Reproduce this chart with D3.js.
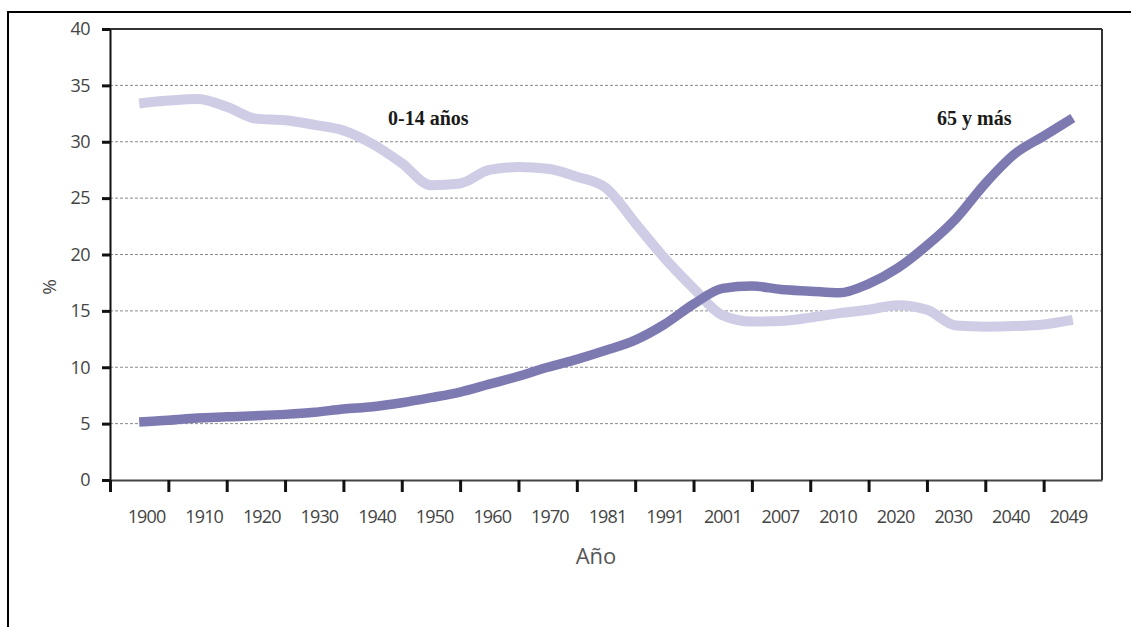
<!DOCTYPE html>
<html>
<head>
<meta charset="utf-8">
<script src="https://cdn.jsdelivr.net/npm/d3@7"></script>
<style>
  html, body { margin: 0; padding: 0; background: #fff; }
  svg { display: block; }
</style>
</head>
<body>
<svg id="chart" width="1131" height="627"></svg>
<script>
// ---- Data ----
const categories = ["1900","1910","1920","1930","1940","1950","1960","1970","1981","1991","2001","2007","2010","2020","2030","2040","2049"];
const yTickValues = [0, 5, 10, 15, 20, 25, 30, 35, 40];
// Values read at each category centre and at each boundary between categories (half steps)
const pct0a14 = [33.4, 33.65, 33.8, 33.1, 32.05, 31.9, 31.5, 31.0, 29.8, 28.1, 26.15, 26.3, 27.5, 27.75, 27.6, 26.9, 25.9, 22.8, 19.7, 17.0, 14.6, 14.05, 14.1, 14.4, 14.8, 15.1, 15.5, 15.1, 13.7, 13.6, 13.65, 13.8, 14.2];
const pct65mas = [5.15, 5.3, 5.5, 5.6, 5.7, 5.82, 6.0, 6.3, 6.5, 6.85, 7.3, 7.8, 8.5, 9.2, 10.0, 10.7, 11.5, 12.4, 13.8, 15.6, 17.0, 17.2, 16.9, 16.75, 16.6, 17.4, 18.8, 20.8, 23.2, 26.3, 28.9, 30.5, 32.1];
const seriesLabels = ["0-14 años", "65 y más"];
const xTitle = "Año";
const yTitle = "%";

// ---- Layout ----
const svg = d3.select("#chart");
const plot = { left: 110, right: 1102, top: 29, bottom: 480 };

const y = d3.scaleLinear().domain([0, 40]).range([plot.bottom, plot.top]);
// index scale: category i sits at i, boundaries at i +/- 0.5
const xi = d3.scaleLinear().domain([-0.5, categories.length - 0.5]).range([plot.left, plot.right]);
const xLabel = d3.scalePoint().domain(categories).range([146, 1068]);

// Outer frame
svg.append("rect").attr("x", 8).attr("y", 12).attr("width", 1300).attr("height", 800)
  .attr("fill", "none").attr("stroke", "#000").attr("stroke-width", 2);

// Gridlines (dashed)
svg.append("g").selectAll("line").data(yTickValues.filter(v => v > 0 && v < 40)).join("line")
  .attr("x1", plot.left).attr("x2", plot.right)
  .attr("y1", d => y(d)).attr("y2", d => y(d))
  .attr("stroke", "#8a8a8a").attr("stroke-width", 1).attr("stroke-dasharray", "3,2");

// Top line (40) and right border
svg.append("line").attr("x1", 102).attr("x2", plot.right).attr("y1", y(40)).attr("y2", y(40))
  .attr("stroke", "#333").attr("stroke-width", 2);
svg.append("line").attr("x1", plot.right).attr("x2", plot.right).attr("y1", y(40)).attr("y2", y(0))
  .attr("stroke", "#333").attr("stroke-width", 2);

// Y axis
const yAxis = d3.axisLeft(y).tickValues(yTickValues).tickSize(8).tickPadding(12).tickSizeOuter(0);
const gy = svg.append("g").attr("transform", `translate(${plot.left},0)`).call(yAxis);
gy.select(".domain").attr("stroke", "#111").attr("stroke-width", 2);
gy.selectAll(".tick line").attr("stroke", "#111").attr("stroke-width", 3);
gy.selectAll(".tick text").attr("font-family", "'Open Sans', sans-serif").attr("font-size", 18)
  .attr("fill", "#444").attr("x", -20).attr("letter-spacing", "-0.5px");

// X axis (ticks at category boundaries)
const tickPositions = d3.range(-0.5, categories.length - 1, 1);
const xAxis = d3.axisBottom(xi).tickValues(tickPositions).tickFormat("").tickSize(12).tickSizeOuter(0);
const gx = svg.append("g").attr("transform", `translate(0,${plot.bottom})`).call(xAxis);
gx.select(".domain").attr("stroke", "#444").attr("stroke-width", 2);
gx.selectAll(".tick line").attr("stroke", "#111").attr("stroke-width", 3);

// X category labels
const xLabAxis = d3.axisBottom(xLabel).tickSize(0).tickPadding(0);
const gxl = svg.append("g").attr("transform", `translate(0,${plot.bottom + 30})`).call(xLabAxis);
gxl.select(".domain").remove();
gxl.selectAll(".tick text").attr("font-family", "'Open Sans', sans-serif").attr("font-size", 18)
  .attr("fill", "#444").attr("letter-spacing", "-0.9px");

// Axis titles
svg.append("text").attr("x", 596).attr("y", 564).attr("text-anchor", "middle")
  .attr("font-family", "'Open Sans', sans-serif").attr("font-size", 22).attr("fill", "#555").text(xTitle);
svg.append("text").attr("transform", "translate(56,287) rotate(-90)").attr("text-anchor", "middle")
  .attr("font-family", "'Open Sans', sans-serif").attr("font-size", 19).attr("fill", "#444").text(yTitle);

// Lines
const line = d3.line().x((d, k) => xi(k / 2)).y(d => y(d)).curve(d3.curveMonotoneX);
svg.append("path").datum(pct0a14).attr("d", line)
  .attr("fill", "none").attr("stroke", "#cfcde6").attr("stroke-width", 10).attr("stroke-linecap", "butt");
svg.append("path").datum(pct65mas).attr("d", line)
  .attr("fill", "none").attr("stroke", "#7d7ab2").attr("stroke-width", 9.5).attr("stroke-linecap", "butt");

// Series labels
svg.append("text").attr("x", 388).attr("y", 125)
  .attr("font-family", "'Liberation Serif', 'Times New Roman', serif").attr("font-weight", "bold")
  .attr("font-size", 20).attr("fill", "#1a1a1a").text(seriesLabels[0]);
svg.append("text").attr("x", 937).attr("y", 125)
  .attr("font-family", "'Liberation Serif', 'Times New Roman', serif").attr("font-weight", "bold")
  .attr("font-size", 20).attr("fill", "#1a1a1a").text(seriesLabels[1]);
</script>
</body>
</html>
